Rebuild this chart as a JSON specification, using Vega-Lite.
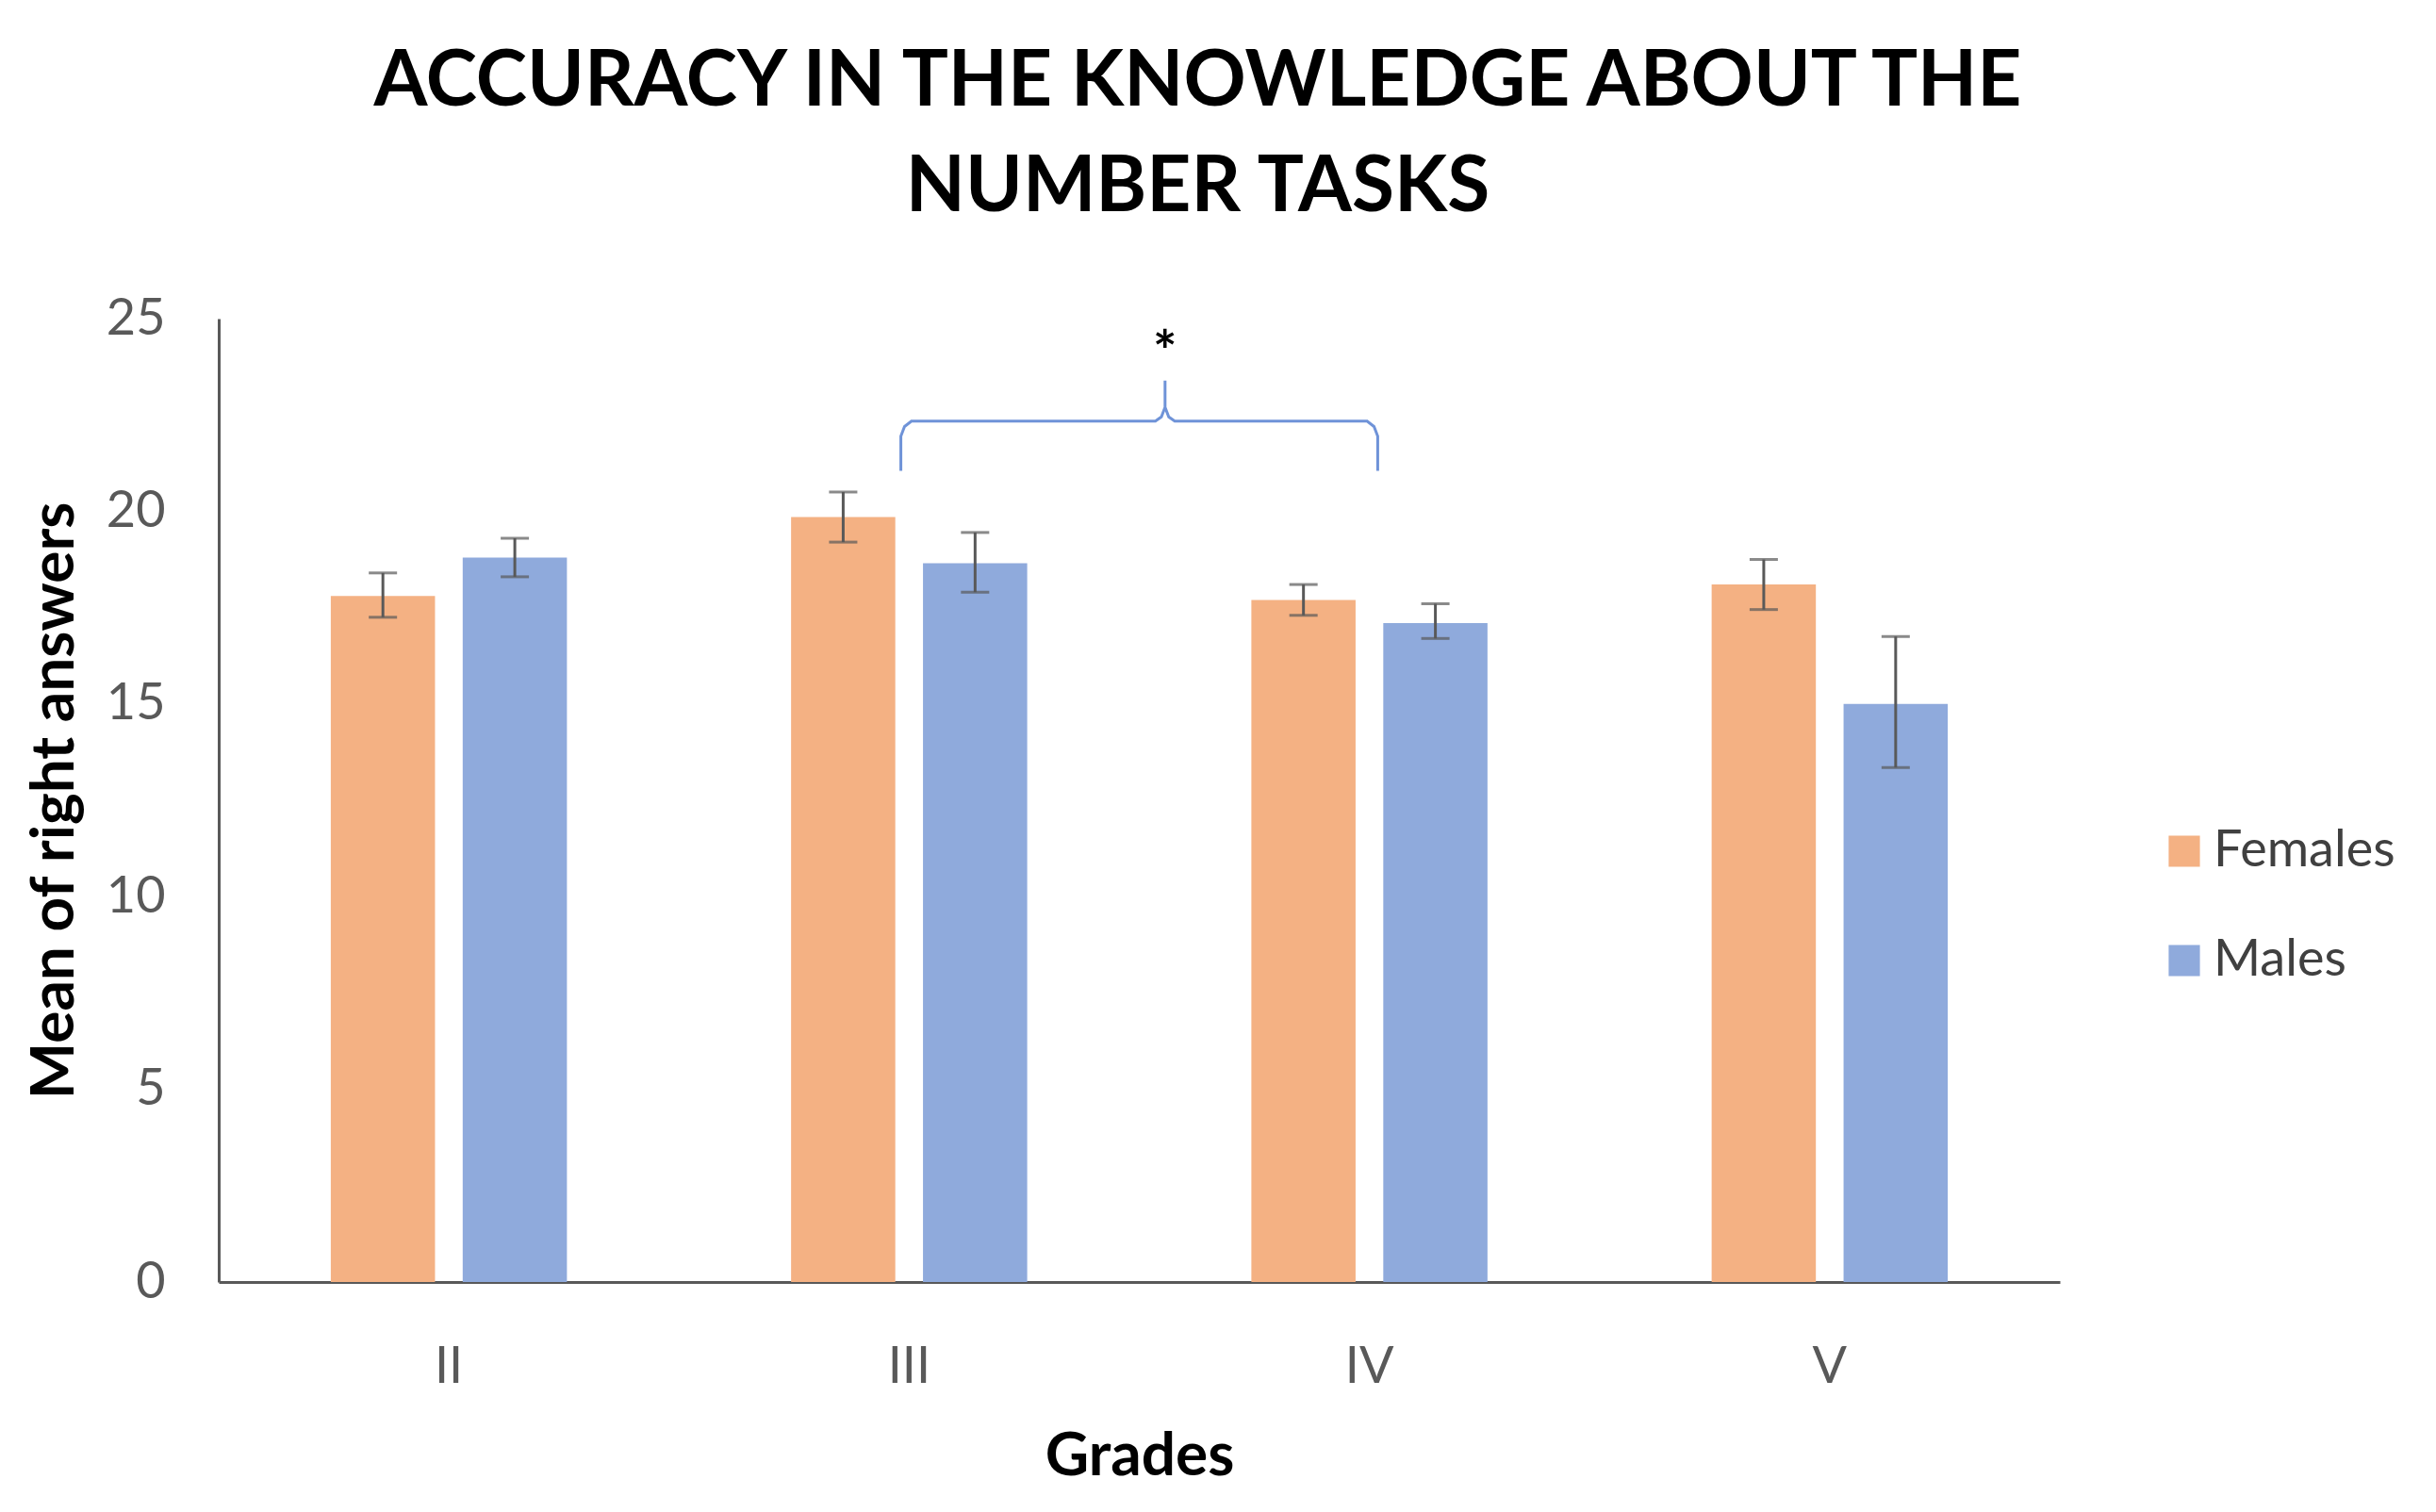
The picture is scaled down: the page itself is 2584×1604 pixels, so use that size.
{
  "$schema": "https://vega.github.io/schema/vega-lite/v6.json",
  "autosize": {"type": "none"},
  "width": 1953,
  "height": 1022,
  "padding": {"left": 232, "top": 338, "right": 399, "bottom": 244},
  "background": "white",
  "title": {
    "text": ["ACCURACY IN THE KNOWLEDGE ABOUT THE", "NUMBER TASKS"],
    "font": "Lato",
    "fontSize": 82,
    "fontWeight": "bold",
    "color": "#000000",
    "anchor": "middle",
    "dx": 62,
    "offset": 70,
    "lineHeight": 112
  },
  "config": {"view": {"stroke": null}, "font": "Lato"},
  "datasets": {
    "bars": [
      {"grade": "II", "gender": "Females", "mean": 17.8, "lo": 17.25, "hi": 18.4},
      {"grade": "II", "gender": "Males", "mean": 18.8, "lo": 18.3, "hi": 19.3},
      {"grade": "III", "gender": "Females", "mean": 19.85, "lo": 19.2, "hi": 20.5},
      {"grade": "III", "gender": "Males", "mean": 18.65, "lo": 17.9, "hi": 19.45},
      {"grade": "IV", "gender": "Females", "mean": 17.7, "lo": 17.3, "hi": 18.1},
      {"grade": "IV", "gender": "Males", "mean": 17.1, "lo": 16.7, "hi": 17.6},
      {"grade": "V", "gender": "Females", "mean": 18.1, "lo": 17.45, "hi": 18.75},
      {"grade": "V", "gender": "Males", "mean": 15.0, "lo": 13.35, "hi": 16.75}
    ],
    "brace": [
      {"i": 1, "x": 1.482, "y": 21.05},
      {"i": 2, "x": 1.482, "y": 21.95},
      {"i": 3, "x": 1.49, "y": 22.2},
      {"i": 4, "x": 1.505, "y": 22.34},
      {"i": 5, "x": 2.035, "y": 22.34},
      {"i": 6, "x": 2.048, "y": 22.45},
      {"i": 7, "x": 2.056, "y": 22.7},
      {"i": 8, "x": 2.056, "y": 23.39},
      {"i": 9, "x": 2.056, "y": 22.7},
      {"i": 10, "x": 2.064, "y": 22.45},
      {"i": 11, "x": 2.077, "y": 22.34},
      {"i": 12, "x": 2.495, "y": 22.34},
      {"i": 13, "x": 2.51, "y": 22.2},
      {"i": 14, "x": 2.518, "y": 21.95},
      {"i": 15, "x": 2.518, "y": 21.05}
    ],
    "star": [{"x": 2.056, "y": 23.63, "label": "*"}]
  },
  "layer": [
    {
      "encoding": {
        "x": {
          "field": "grade",
          "type": "nominal",
          "sort": ["II", "III", "IV", "V"],
          "scale": {"paddingInner": 0.487, "paddingOuter": 0.2435},
          "axis": {
            "title": "Grades",
            "titleFont": "Lato",
            "titleFontSize": 64,
            "titleFontWeight": "bold",
            "titleColor": "#000000",
            "titlePadding": 36,
            "labelFont": "Lato",
            "labelFontSize": 54,
            "labelColor": "#595959",
            "labelPadding": 63,
            "labelAngle": 0,
            "ticks": false,
            "grid": false,
            "domainColor": "#595959",
            "domainWidth": 3
          }
        },
        "xOffset": {
          "field": "gender",
          "type": "nominal",
          "sort": ["Females", "Males"],
          "scale": {"paddingInner": 0.21, "paddingOuter": 0}
        }
      },
      "layer": [
        {
          "data": {"name": "bars"},
          "mark": {"type": "bar"},
          "encoding": {
            "y": {
              "field": "mean",
              "type": "quantitative",
              "scale": {"domain": [0, 25], "nice": false},
              "axis": {
                "title": "Mean of right answers",
                "titleFont": "Lato",
                "titleFontSize": 64,
                "titleFontWeight": "bold",
                "titleColor": "#000000",
                "titlePadding": 22,
                "labelFont": "Lato",
                "labelFontSize": 54,
                "labelColor": "#595959",
                "labelPadding": 57,
                "values": [0, 5, 10, 15, 20, 25],
                "ticks": false,
                "grid": false,
                "domainColor": "#595959",
                "domainWidth": 3
              }
            },
            "color": {
              "field": "gender",
              "type": "nominal",
              "scale": {"domain": ["Females", "Males"], "range": ["#F4B183", "#8FAADC"]},
              "legend": {
                "orient": "none",
                "legendX": 2058,
                "legendY": 538,
                "title": null,
                "symbolType": "square",
                "symbolSize": 1100,
                "symbolStrokeWidth": 0,
                "labelFont": "Lato",
                "labelFontSize": 54,
                "labelColor": "#404040",
                "labelOffset": 4,
                "labelLimit": 0,
                "rowPadding": 62
              }
            }
          }
        },
        {
          "data": {"name": "bars"},
          "mark": {"type": "rule", "color": "#595959", "strokeWidth": 3},
          "encoding": {
            "y": {"field": "lo", "type": "quantitative"},
            "y2": {"field": "hi"}
          }
        },
        {
          "data": {"name": "bars"},
          "mark": {"type": "tick", "color": "#595959", "size": 30, "thickness": 3, "orient": "horizontal"},
          "encoding": {"y": {"field": "lo", "type": "quantitative"}}
        },
        {
          "data": {"name": "bars"},
          "mark": {"type": "tick", "color": "#595959", "size": 30, "thickness": 3, "orient": "horizontal"},
          "encoding": {"y": {"field": "hi", "type": "quantitative"}}
        }
      ]
    },
    {
      "encoding": {
        "x": {"field": "x", "type": "quantitative", "scale": {"domain": [0, 4], "nice": false, "zero": false}, "axis": null},
        "y": {"field": "y", "type": "quantitative"}
      },
      "layer": [
        {
          "data": {"name": "brace"},
          "mark": {"type": "line", "color": "#6F93D8", "strokeWidth": 3, "interpolate": "linear"},
          "encoding": {"order": {"field": "i", "type": "quantitative"}}
        },
        {
          "data": {"name": "star"},
          "mark": {"type": "text", "font": "Lato", "fontSize": 60, "fontWeight": "bold", "color": "#000000", "baseline": "alphabetic", "align": "center"},
          "encoding": {"text": {"field": "label"}}
        }
      ]
    }
  ],
  "resolve": {"scale": {"x": "independent"}, "axis": {"x": "independent"}}
}
